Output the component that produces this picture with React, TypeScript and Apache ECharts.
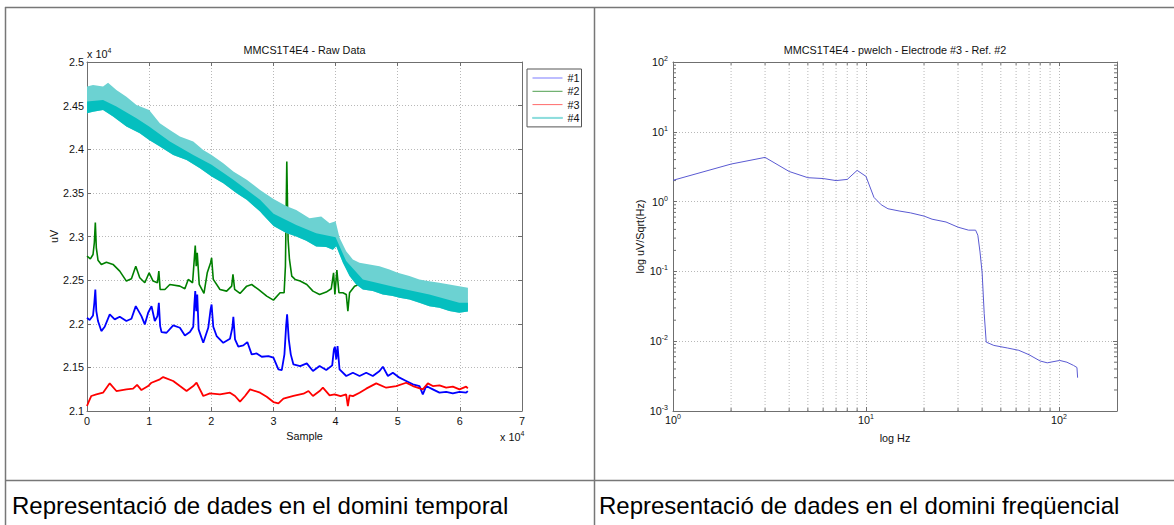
import React, { useEffect, useRef } from 'react';
import * as echarts from 'echarts';

const F = '"Liberation Sans", Arial, Helvetica, sans-serif';
const AX = '#6f6f6f';
const GRID = '#b8b8b8';
const TXT = '#111';

// ---- Raw data (sample, uV) ----
const ch1: number[][] = [[0,22069],[430,22042],[970,22095],[1180,22241],[1340,22393],[1500,22145],[1770,22031],[2310,21916],[2850,21966],[3660,22107],[4460,22050],[5270,22080],[6340,22031],[7150,22057],[7850,22202],[8760,22088],[9300,21992],[9840,22126],[10380,22202],[10910,22031],[11340,22088],[11560,22241],[11770,21973],[11990,21905],[12800,21897],[13870,21981],[14950,21954],[15750,21866],[16560,21905],[17100,21966],[17260,22202],[17420,22374],[17580,22145],[17740,22336],[17960,21935],[18710,21782],[19510,21954],[19890,22164],[20050,22221],[20320,21966],[20860,21859],[21930,21782],[23010,21828],[23390,21954],[23550,22080],[23820,21821],[24350,21737],[25160,21752],[25800,21790],[26500,21649],[27310,21660],[28120,21622],[29190,21630],[30000,21611],[30800,21477],[31340,21469],[31770,21649],[32040,21973],[32200,22107],[32470,21821],[32790,21649],[33220,21534],[34300,21515],[35370,21546],[36360,21458],[37430,21515],[38500,21469],[39460,21523],[39730,21706],[39890,21737],[40110,21592],[40320,21744],[40640,21477],[41720,21401],[42790,21439],[43860,21401],[44930,21439],[46000,21401],[47080,21458],[47610,21508],[48420,21401],[49220,21439],[50290,21382],[51360,21344],[52440,21305],[53510,21286],[54040,21191],[54580,21286],[55650,21248],[56720,21210],[57800,21218],[58870,21202],[59940,21218],[61010,21210],[61280,21229]];

const ch2: number[][] = [[0,22775],[540,22744],[970,22794],[1180,22928],[1340,23160],[1500,22870],[1770,22729],[2310,22680],[3120,22706],[4190,22680],[5270,22603],[6340,22489],[7150,22515],[7850,22660],[8490,22527],[9300,22470],[10000,22584],[10640,22489],[11340,22470],[11560,22603],[11770,22393],[12530,22393],[13330,22450],[14950,22431],[15750,22401],[16290,22508],[16990,22470],[17260,22737],[17420,22897],[17580,22660],[17740,22813],[18060,22450],[18820,22347],[19350,22584],[19890,22699],[20050,22756],[20320,22508],[21400,22393],[22470,22374],[23280,22431],[23490,22565],[23760,22393],[24620,22347],[25700,22431],[26500,22450],[27580,22393],[28920,22317],[30000,22271],[31070,22355],[31720,22355],[31930,22660],[32150,23860],[32360,22966],[32580,22737],[32950,22546],[33490,22508],[34300,22489],[35370,22450],[36360,22374],[37430,22336],[38500,22363],[39300,22401],[39680,22584],[39890,22336],[40210,22615],[40540,22355],[41180,22355],[41720,22336],[41980,22145],[42250,22355],[43060,22431],[43750,22450],[46000,22400],[50000,22350],[54000,22320],[58000,22290],[61200,22270]];

const ch3: number[][] = [[0,21057],[300,21110],[700,21172],[1500,21191],[2580,21210],[3660,21317],[4730,21229],[6340,21248],[7420,21256],[8060,21300],[8760,21240],[9840,21286],[10380,21324],[11720,21363],[12260,21389],[13870,21344],[14950,21286],[16020,21229],[17100,21286],[17630,21324],[18170,21248],[18710,21172],[19780,21202],[21400,21191],[23010,21210],[23820,21172],[24620,21107],[25430,21172],[26240,21248],[27850,21210],[28920,21164],[30000,21103],[30800,21088],[31610,21141],[33220,21172],[34840,21198],[35640,21229],[36360,21172],[37430,21229],[37960,21267],[39040,21180],[39840,21190],[40800,21170],[41700,21190],[41980,21057],[42250,21180],[42790,21170],[43860,21210],[44930,21256],[46540,21317],[48150,21267],[49760,21286],[51360,21324],[52440,21286],[54040,21248],[54850,21317],[55650,21286],[56720,21294],[57800,21267],[58870,21279],[59940,21248],[61010,21279],[61280,21260]];

// channel #4: envelope of the dense oscillating trace
const ch4Upper: number[][] = [[0,24718],[970,24737],[2580,24718],[3390,24763],[4730,24679],[6340,24603],[7960,24508],[10000,24450],[11720,24298],[13330,24221],[14950,24145],[17100,24088],[18710,23992],[20050,23935],[21930,23840],[23550,23744],[25700,23649],[27850,23534],[30020,23430],[32060,23350],[33670,23305],[35810,23210],[37690,23229],[39030,23153],[40000,23176],[40640,22985],[41710,22832],[42780,22737],[43850,22698],[45460,22679],[47060,22660],[48670,22622],[50000,22584],[51880,22546],[53480,22508],[55090,22488],[56690,22470],[58300,22450],[59900,22431],[61300,22412]];
const ch4Core: number[][] = [[0,24546],[2580,24565],[4730,24489],[7960,24355],[10000,24260],[13330,24088],[17100,23935],[20050,23821],[23550,23649],[27850,23420],[30020,23260],[33670,23133],[36880,23038],[40000,22990],[41710,22718],[44390,22508],[50000,22412],[55090,22336],[59900,22240],[61300,22240]];
const ch4Lower: number[][] = [[0,24412],[970,24431],[2580,24450],[4190,24374],[6340,24260],[8490,24183],[10000,24107],[11720,24031],[13870,23935],[16020,23878],[18170,23782],[20050,23687],[21930,23611],[24080,23496],[25700,23420],[27850,23286],[28310,23250],[30020,23120],[32060,23040],[33670,23000],[35280,22950],[36880,22885],[38490,22880],[39560,22847],[40110,22889],[41180,22698],[42250,22546],[43320,22450],[44390,22393],[45990,22374],[47600,22336],[49200,22317],[50270,22298],[51880,22279],[53480,22240],[55090,22202],[56690,22183],[58300,22145],[59900,22126],[61300,22140]];

// ---- pwelch spectrum ----
const psdFreq = [1,2,3,4,5,6,7,8,9,10,11,12,13,15,17,20,22,26,30,34,37,38,39,40,41,42,46,54,62,70,80,87,101,110,119,124,125];
const psdValue = [2.02,3.45,4.3,2.7,2.2,2.14,2.0,2.08,2.8,2.3,1.15,0.9,0.79,0.73,0.69,0.62,0.56,0.51,0.43,0.39,0.39,0.33,0.19,0.096,0.025,0.0097,0.0087,0.008,0.0074,0.0064,0.0052,0.0049,0.0053,0.005,0.0045,0.0042,0.003];

const minorHz = [2,3,4,5,6,7,8,9,20,30,40,50,60,70,80,90];
const minorPsd = [0.002,0.003,0.004,0.005,0.006,0.007,0.008,0.009,0.02,0.03,0.04,0.05,0.06,0.07,0.08,0.09,0.2,0.3,0.4,0.5,0.6,0.7,0.8,0.9,2,3,4,5,6,7,8,9,20,30,40,50,60,70,80,90];

const legendNames = ['#1', '#2', '#3', '#4'];

function logLabel(v: number) {
  const e = Math.log10(v);
  const r = Math.round(e);
  if (Math.abs(e - r) > 1e-6) return '';
  return `{b|10}{s|${r}}`;
}

const FS = 10.8;
const richSup = {
  b: { fontSize: FS, fontFamily: F, color: TXT, lineHeight: 14 },
  s: { fontSize: 7, fontFamily: F, color: TXT, lineHeight: 6, verticalAlign: 'top' },
};

const tick = { show: true, inside: true, length: 4, lineStyle: { color: AX, width: 1 } };
const axLine = { show: true, onZero: false, lineStyle: { color: AX, width: 1 } };
const split = { show: true, lineStyle: { color: GRID, width: 1, type: [1, 2] } };
const nameStyle = { fontSize: FS, fontFamily: F, color: TXT };
const lblBase = { color: TXT, fontSize: FS, fontFamily: F };

function supText(x: number, y: number) {
  return {
    type: 'text', x, y, silent: true,
    style: {
      text: '{a|x 10}{s|4}', verticalAlign: 'middle',
      rich: {
        a: { fontSize: FS, fontFamily: F, fill: TXT, color: TXT, lineHeight: 14 },
        s: { fontSize: 7, fontFamily: F, fill: TXT, color: TXT, lineHeight: 6, verticalAlign: 'top' },
      },
    },
  };
}

export default function App() {
  const ref = useRef<HTMLDivElement>(null);
  useEffect(() => {
    if (!ref.current) return;
    const chart = echarts.init(ref.current, undefined, { renderer: 'svg' });
    const bandRender = (_p: any, api: any) => {
      const up = ch4Upper.map((p) => api.coord(p));
      const core = ch4Core.map((p) => api.coord(p));
      const lo = ch4Lower.map((p) => api.coord(p)).reverse();
      return {
        type: 'group',
        children: [
          { type: 'polygon', shape: { points: up.concat(lo) }, style: { fill: '#6cd2d2' } },
          { type: 'polygon', shape: { points: core.concat(lo) }, style: { fill: '#05bfbf' } },
        ],
      };
    };
    const minorXRender = (_p: any, api: any) => {
      const v = api.value(0);
      const b = api.coord([v, 0.001]);
      const t = api.coord([v, 100]);
      return {
        type: 'group',
        children: [
          { type: 'line', shape: { x1: b[0], y1: b[1], x2: t[0], y2: t[1] }, style: { stroke: GRID, lineWidth: 1, lineDash: [1, 2] } },
          { type: 'line', shape: { x1: b[0], y1: b[1], x2: b[0], y2: b[1] - 3 }, style: { stroke: AX, lineWidth: 1 } },
          { type: 'line', shape: { x1: t[0], y1: t[1], x2: t[0], y2: t[1] + 3 }, style: { stroke: AX, lineWidth: 1 } },
        ],
      };
    };
    const minorYRender = (_p: any, api: any) => {
      const v = api.value(1);
      const l = api.coord([1, v]);
      const r = api.coord([200, v]);
      return {
        type: 'group',
        children: [
          { type: 'line', shape: { x1: l[0], y1: l[1], x2: l[0] + 3, y2: l[1] }, style: { stroke: AX, lineWidth: 1 } },
          { type: 'line', shape: { x1: r[0], y1: r[1], x2: r[0] - 3, y2: r[1] }, style: { stroke: AX, lineWidth: 1 } },
        ],
      };
    };

    const option: any = {
      animation: false,
      backgroundColor: '#fff',
      textStyle: { fontFamily: F },
      title: [
        { text: 'MMCS1T4E4 - Raw Data', left: 304.5, top: 44, textAlign: 'center', padding: 0,
          textStyle: { fontSize: FS, fontWeight: 'normal', color: TXT, fontFamily: F } },
        { text: 'MMCS1T4E4 - pwelch - Electrode #3 - Ref. #2', left: 895, top: 44, textAlign: 'center', padding: 0,
          textStyle: { fontSize: FS, fontWeight: 'normal', color: TXT, fontFamily: F } },
      ],
      grid: [
        { left: 87, top: 62, width: 435, height: 349 },
        { left: 673, top: 62, width: 444, height: 349 },
      ],
      legend: {
        data: [
          { name: legendNames[0], icon: 'rect', itemStyle: { color: '#7b7bff' } },
          { name: legendNames[1], icon: 'rect', itemStyle: { color: '#4f9f4f' } },
          { name: legendNames[2], icon: 'rect', itemStyle: { color: '#ff6a6a' } },
          { name: legendNames[3], icon: 'rect', itemStyle: { color: '#8adcdc', borderColor: '#8adcdc', borderWidth: 1 } },
        ],
        orient: 'vertical', left: 527, top: 69, itemWidth: 30, itemHeight: 1, itemGap: 1.3,
        padding: [3, 2, 3, 5], borderColor: '#555', borderWidth: 1, backgroundColor: '#fff',
        selectedMode: false,
        textStyle: { fontSize: FS, lineHeight: 12, color: TXT, fontFamily: F },
      },
      xAxis: [
        { gridIndex: 0, type: 'value', min: 0, max: 70000, interval: 10000, position: 'bottom',
          axisLine: axLine, axisTick: tick, splitLine: split,
          axisLabel: { ...lblBase, margin: 4, formatter: (v: number) => String(v / 10000) },
          name: 'Sample', nameLocation: 'middle', nameGap: 16, nameTextStyle: nameStyle },
        { gridIndex: 0, type: 'value', min: 0, max: 70000, interval: 10000, position: 'top',
          axisLine: axLine, axisTick: tick, splitLine: { show: false }, axisLabel: { show: false } },
        { gridIndex: 1, type: 'log', logBase: 10, min: 1, max: 200, position: 'bottom',
          axisLine: axLine, axisTick: tick, splitLine: split,
          axisLabel: { ...lblBase, margin: 2, formatter: logLabel, rich: richSup },
          name: 'log Hz', nameLocation: 'middle', nameGap: 21, nameTextStyle: nameStyle },
        { gridIndex: 1, type: 'log', logBase: 10, min: 1, max: 200, position: 'top',
          axisLine: axLine, axisTick: tick, splitLine: { show: false }, axisLabel: { show: false } },
      ],
      yAxis: [
        { gridIndex: 0, type: 'value', min: 21000, max: 25000, interval: 500, position: 'left',
          axisLine: axLine, axisTick: tick, splitLine: split,
          axisLabel: { ...lblBase, margin: 3, formatter: (v: number) => String(+(v / 10000).toFixed(2)) },
          name: 'uV', nameLocation: 'middle', nameGap: 26, nameTextStyle: nameStyle },
        { gridIndex: 0, type: 'value', min: 21000, max: 25000, interval: 500, position: 'right',
          axisLine: axLine, axisTick: tick, splitLine: { show: false }, axisLabel: { show: false } },
        { gridIndex: 1, type: 'log', logBase: 10, min: 0.001, max: 100, position: 'left',
          axisLine: axLine, axisTick: tick, splitLine: split,
          axisLabel: { ...lblBase, margin: 5, formatter: logLabel, rich: richSup },
          name: 'log uV/Sqrt(Hz)', nameLocation: 'middle', nameGap: 21, nameTextStyle: nameStyle },
        { gridIndex: 1, type: 'log', logBase: 10, min: 0.001, max: 100, position: 'right',
          axisLine: axLine, axisTick: tick, splitLine: { show: false }, axisLabel: { show: false } },
      ],
      series: [
        { type: 'line', name: '#1', xAxisIndex: 0, yAxisIndex: 0, data: ch1, symbol: 'none', showSymbol: false,
          lineStyle: { color: '#0000ff', width: 1.8 }, itemStyle: { color: '#0000ff' }, z: 3 },
        { type: 'line', name: '#2', xAxisIndex: 0, yAxisIndex: 0, data: ch2, symbol: 'none', showSymbol: false,
          lineStyle: { color: '#008000', width: 1.6 }, itemStyle: { color: '#008000' }, z: 3 },
        { type: 'line', name: '#3', xAxisIndex: 0, yAxisIndex: 0, data: ch3, symbol: 'none', showSymbol: false,
          lineStyle: { color: '#ff0000', width: 1.8 }, itemStyle: { color: '#ff0000' }, z: 3 },
        { type: 'custom', name: '#4', xAxisIndex: 0, yAxisIndex: 0, data: [[0, 24000]], renderItem: bandRender,
          itemStyle: { color: '#00bfbf' }, silent: true, z: 4 },
        { type: 'custom', name: 'minorHz', xAxisIndex: 2, yAxisIndex: 2, data: minorHz.map((v) => [v, 1]),
          renderItem: minorXRender, silent: true, z: 1 },
        { type: 'custom', name: 'minorPsd', xAxisIndex: 2, yAxisIndex: 2, data: minorPsd.map((v) => [1, v]),
          renderItem: minorYRender, silent: true, z: 1 },
        { type: 'line', name: 'PSD', xAxisIndex: 2, yAxisIndex: 2,
          data: psdFreq.map((f, i) => [f, psdValue[i]]), symbol: 'none', showSymbol: false,
          lineStyle: { color: '#5a5ad2', width: 1 }, itemStyle: { color: '#5a5ad2' }, z: 3 },
      ],
      graphic: [
        { type: 'line', silent: true, shape: { x1: 5, y1: 7.5, x2: 1174, y2: 7.5 }, style: { stroke: '#777', lineWidth: 1.5 } },
        { type: 'line', silent: true, shape: { x1: 5.5, y1: 7, x2: 5.5, y2: 525 }, style: { stroke: '#777', lineWidth: 1.5 } },
        { type: 'line', silent: true, shape: { x1: 594.5, y1: 7, x2: 594.5, y2: 525 }, style: { stroke: '#777', lineWidth: 1.5 } },
        { type: 'line', silent: true, shape: { x1: 5, y1: 480.5, x2: 1174, y2: 480.5 }, style: { stroke: '#777', lineWidth: 1.5 } },
        { type: 'text', x: 12, y: 505, silent: true,
          style: { text: 'Representació de dades en el domini temporal', fontSize: 24, fontFamily: F, fill: '#000', verticalAlign: 'middle' } },
        { type: 'text', x: 599, y: 505, silent: true,
          style: { text: 'Representació de dades en el domini freqüencial', fontSize: 24, fontFamily: F, fill: '#000', verticalAlign: 'middle' } },
        supText(87, 54),
        supText(500, 437),
      ],
    };
    chart.setOption(option);
    return () => chart.dispose();
  }, []);
  return (
    <div
      ref={ref}
      style={{ position: 'fixed', left: 0, top: 0, width: 1174, height: 525, background: '#fff' }}
    />
  );
}
